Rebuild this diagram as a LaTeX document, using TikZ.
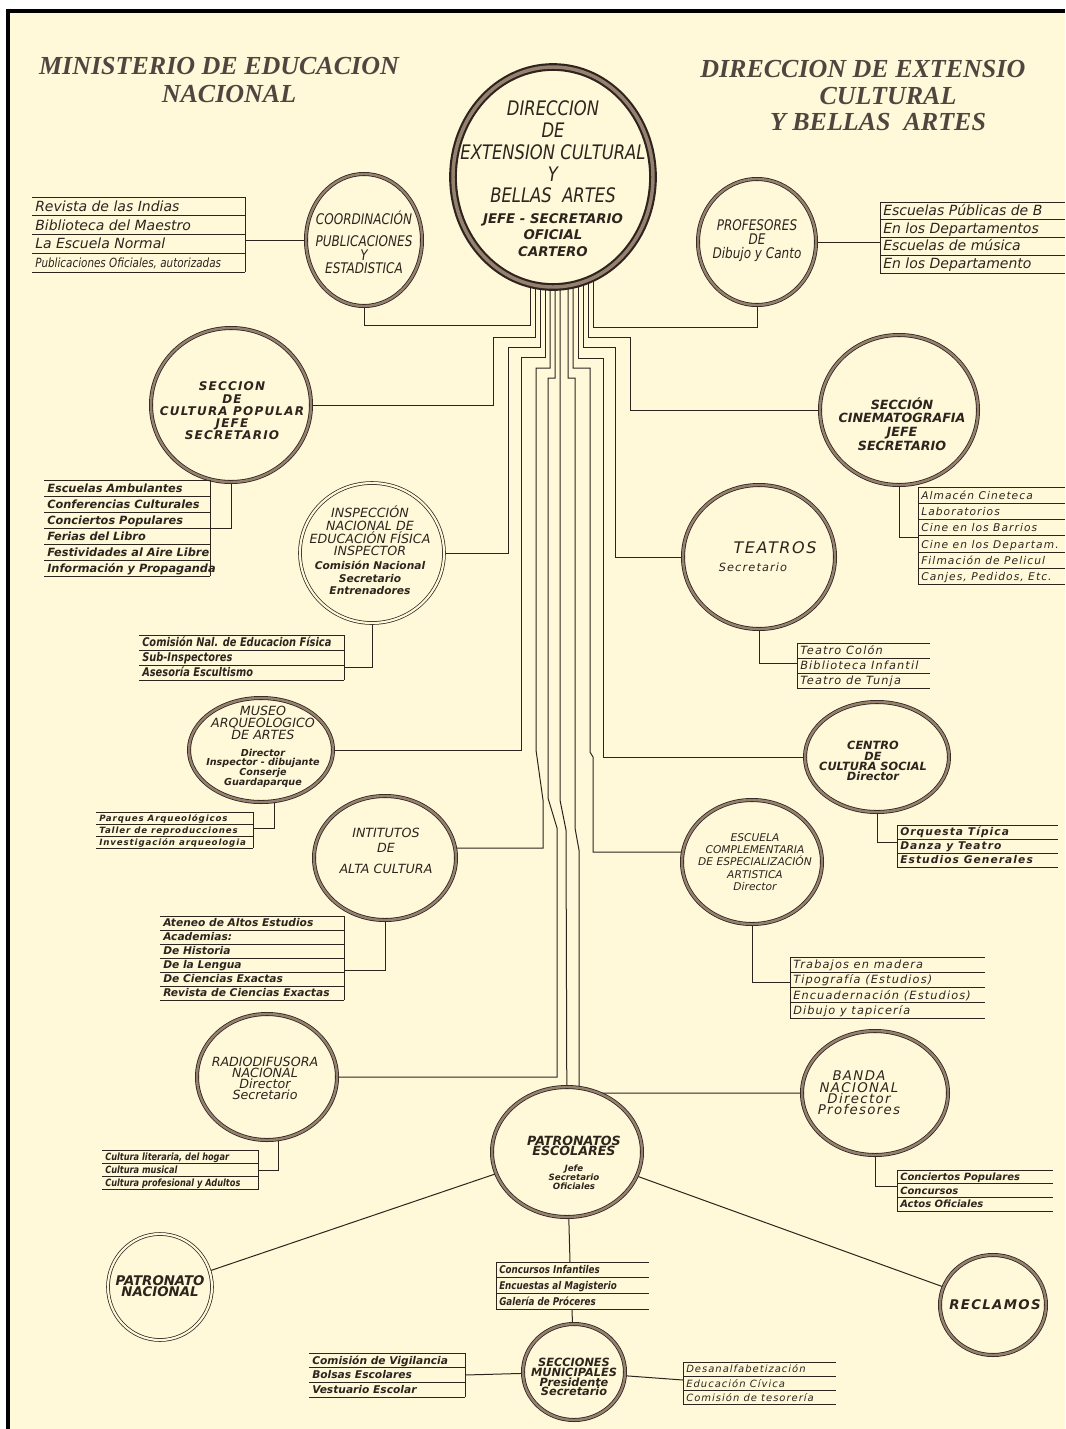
\documentclass[tikz,border=0pt]{standalone}
\usepackage{fontspec}
\usepackage{graphicx}
\setmainfont{DejaVu Sans}
\newfontfamily\hand{DejaVu Sans}
\newfontfamily\handsp[LetterSpace=10]{DejaVu Sans}
\newfontfamily\handn[FakeStretch=0.82]{DejaVu Sans}
\newfontfamily\headf{Liberation Serif}
\usetikzlibrary{shapes.geometric,calc}
\definecolor{cream}{RGB}{255,249,217}
\definecolor{ink}{RGB}{45,36,30}
\definecolor{ringmid}{RGB}{150,128,112}
\definecolor{headc}{RGB}{80,70,64}
\pgfdeclarelayer{paper}
\pgfdeclarelayer{wires}
\pgfsetlayers{paper,wires,main}
\tikzset{
 conn/.style={draw=ink, line width=0.75pt},
 circ/.style 2 args={ellipse, inner sep=0pt, minimum width={#1*1.5pt}, minimum height={#2*1.5pt}, fill=cream},
 ring/.style={draw=ink, line width=0.6pt, double=ringmid, double distance=1.8pt},
 thinring/.style={draw=ink, line width=0.55pt, double=cream, double distance=1.6pt},
 bigring/.style={draw=ink, line width=1.6pt, double=ringmid, double distance=2.6pt},
 ct/.style={align=center, inner sep=0pt, text=ink},
 item/.style={inner sep=0pt, text=ink},
 head/.style={inner sep=0pt, text=headc, font=\headf\bfseries\itshape\fontsize{19.5}{21}\selectfont},
}
\newcommand{\rowlist}[8][]{%
  \draw[conn] (#3,#6) -- (#4,#6);
  \foreach \itm [count=\i] in {#8}{%
    \node[item,#1,anchor=base west] (#2-\i) at ({#3+3},{#6+\i*#7-0.24*#7}) {\itm};
    \draw[conn] (#3,{#6+\i*#7}) -- (#4,{#6+\i*#7});
    \xdef\nrows{\i}%
  }%
  \draw[conn] (#5,#6) -- (#5,{#6+\nrows*#7});
}
\begin{document}
\begin{tikzpicture}[x=0.75pt,y=-0.75pt]
\useasboundingbox (0,0) rectangle (1065,1429);
\begin{pgfonlayer}{paper}
 \fill[white] (0,0) rectangle (1065,1429);
 \fill[cream] (7,11) rectangle (1065,1429);
 \draw[line width=3pt, black] (7.5,1429) -- (7.5,11) -- (1065,11);
\end{pgfonlayer}

% headings
\node[head] (h1) at (219,66) {MINISTERIO DE EDUCACION};
\node[head] (h2) at (229,94) {NACIONAL};
\node[head, anchor=west] (h3) at (700,69) {DIRECCION DE EXTENSIO};
\node[head] (h4) at (888,96) {CULTURAL};
\node[head] (h5) at (878,122) {Y BELLAS\ \ ARTES};

% circles
\node[circ={100}{110}, bigring] (dir) at (553,177) {};
\node[circ={58}{66}, ring] (coord) at (364,240) {};
\node[circ={59}{63}, ring] (prof) at (757,242) {};
\node[circ={80}{77}, ring] (cultpop) at (231,405) {};
\node[circ={72}{70}, thinring] (insp) at (372,553) {};
\node[circ={79}{75}, ring] (cine) at (899,410) {};
\node[circ={76}{72}, ring] (teatros) at (759,557) {};
\node[circ={72}{52}, ring] (museo) at (261,750) {};
\node[circ={72}{55}, ring] (centro) at (877,757) {};
\node[circ={71}{62}, ring] (instit) at (385,858) {};
\node[circ={70}{62}, ring] (escuela) at (752,862) {};
\node[circ={70}{63}, ring] (radio) at (267,1077) {};
\node[circ={73}{62}, ring] (banda) at (875,1093) {};
\node[circ={75}{65}, ring] (patron) at (567,1152) {};
\node[circ={52}{53}, thinring] (patnac) at (160,1287) {};
\node[circ={53}{50}, ring] (reclamos) at (993,1305) {};
\node[circ={51}{48}, ring] (secc) at (574,1372) {};

% circle texts
\node[ct, font=\handn\itshape\fontsize{15}{16.3}\selectfont] (dir-t1) at (553,152) {DIRECCION\\DE\\EXTENSION CULTURAL\\Y\\BELLAS\ \ ARTES};
\node[ct, font=\hand\bfseries\itshape\fontsize{10}{12.4}\selectfont] (dir-t2) at (553,235) {JEFE - SECRETARIO\\OFICIAL\\CARTERO};
\node[ct, font=\handn\itshape\fontsize{11}{10}\selectfont] (coord-t) at (364,242) {COORDINACIÓN\\[7pt]PUBLICACIONES\\Y\\ESTADISTICA};
\node[ct, font=\handn\itshape\fontsize{11}{10.5}\selectfont] (prof-t) at (757,241) {PROFESORES\\DE\\Dibujo y Canto};
\node[ct, font=\handsp\bfseries\itshape\fontsize{9}{9.2}\selectfont] (cultpop-t) at (232,411) {SECCION\\DE\\CULTURA POPULAR\\JEFE\\SECRETARIO};
\node[ct, font=\hand\itshape\fontsize{9.5}{9.5}\selectfont] (insp-t1) at (370,531) {INSPECCIÓN\\NACIONAL DE\\EDUCACIÓN FÍSICA\\INSPECTOR};
\node[ct, font=\hand\bfseries\itshape\fontsize{8}{9.4}\selectfont] (insp-t2) at (370,578) {Comisión Nacional\\Secretario\\Entrenadores};
\node[ct, font=\hand\bfseries\itshape\fontsize{9.5}{10.3}\selectfont] (cine-t) at (902,424) {SECCIÓN\\CINEMATOGRAFIA\\JEFE\\SECRETARIO};
\node[ct, font=\handsp\itshape\fontsize{12}{13}\selectfont] (teatros-t1) at (775,548) {TEATROS};
\node[ct, font=\handsp\itshape\fontsize{8.5}{10}\selectfont] (teatros-t2) at (753,567) {Secretario};
\node[ct, font=\hand\itshape\fontsize{9.5}{9}\selectfont] (museo-t1) at (263,723) {MUSEO\\ARQUEOLOGICO\\DE ARTES};
\node[ct, font=\hand\bfseries\itshape\fontsize{7.2}{7.2}\selectfont] (museo-t2) at (263,768) {Director\\Inspector - dibujante\\Conserje\\Guardaparque};
\node[ct, font=\hand\itshape\fontsize{9.5}{11}\selectfont] (instit-t) at (386,851) {INTITUTOS\\DE\\[5pt]ALTA CULTURA};
\node[ct, font=\hand\bfseries\itshape\fontsize{8.5}{7.6}\selectfont] (centro-t) at (873,761) {CENTRO\\DE\\CULTURA SOCIAL\\Director};
\node[ct, font=\hand\itshape\fontsize{8}{9.2}\selectfont] (escuela-t) at (755,862) {ESCUELA\\COMPLEMENTARIA\\DE ESPECIALIZACIÓN\\ARTISTICA\\Director};
\node[ct, font=\hand\itshape\fontsize{9.5}{8.3}\selectfont] (radio-t) at (265,1078) {RADIODIFUSORA\\NACIONAL\\Director\\Secretario};
\node[ct, font=\handsp\itshape\fontsize{10}{8.5}\selectfont] (banda-t) at (859,1093) {BANDA\\NACIONAL\\Director\\Profesores};
\node[ct, font=\hand\bfseries\itshape\fontsize{9.5}{7.5}\selectfont] (patron-t1) at (574,1146) {PATRONATOS\\ESCOLARES};
\node[ct, font=\hand\bfseries\itshape\fontsize{6.5}{6.8}\selectfont] (patron-t2) at (574,1177) {Jefe\\Secretario\\Oficiales};
\node[ct, font=\hand\bfseries\itshape\fontsize{10}{8.3}\selectfont] (patnac-t) at (160,1286) {PATRONATO\\NACIONAL};
\node[ct, font=\handsp\bfseries\itshape\fontsize{10}{11}\selectfont] (reclamos-t) at (995,1305) {RECLAMOS};
\node[ct, font=\hand\bfseries\itshape\fontsize{8.5}{7.3}\selectfont] (secc-t) at (574,1377) {SECCIONES\\MUNICIPALES\\Presidente\\Secretario};

% lists
\rowlist[font=\hand\itshape\fontsize{10.5}{11}\selectfont]{lA}{32}{245}{245}{197}{18.75}{Revista de las Indias, Biblioteca del Maestro, La Escuela Normal, {{\handn\fontsize{9.5}{10}\selectfont Publicaciones Oficiales, autorizadas}}}
\rowlist[font=\hand\itshape\fontsize{10.5}{11}\selectfont]{lB}{880}{1065}{880}{202}{17.75}{Escuelas Públicas de B, En los Departamentos, Escuelas de música, En los Departamento}
\rowlist[font=\hand\bfseries\itshape\fontsize{8.5}{9}\selectfont]{lC}{44}{210}{210}{480}{16}{Escuelas Ambulantes, Conferencias Culturales, Conciertos Populares, Ferias del Libro, Festividades al Aire Libre, Información y Propaganda}
\rowlist[font=\handn\bfseries\itshape\fontsize{9}{9}\selectfont]{lD}{139}{344}{344}{635}{15}{Comisión Nal. de Educacion Física, Sub-Inspectores, Asesoría Escultismo}
\rowlist[font=\handsp\itshape\fontsize{8}{9}\selectfont]{lE}{918}{1065}{918}{487}{16.3}{Almacén Cineteca, Laboratorios, Cine en los Barrios, Cine en los Departam., Filmación de Pelicul, {Canjes, Pedidos, Etc.}}
\rowlist[font=\handsp\itshape\fontsize{8.5}{9}\selectfont]{lF}{797}{930}{797}{643}{15}{Teatro Colón, Biblioteca Infantil, Teatro de Tunja}
\rowlist[font=\handsp\bfseries\itshape\fontsize{6.5}{7}\selectfont]{lG}{96}{253}{253}{812}{12}{Parques Arqueológicos, Taller de reproducciones, Investigación arqueologia}
\rowlist[font=\hand\bfseries\itshape\fontsize{8}{9}\selectfont]{lH}{160}{344}{344}{916}{14}{Ateneo de Altos Estudios, Academias:, De Historia, De la Lengua, De Ciencias Exactas, Revista de Ciencias Exactas}
\rowlist[font=\handsp\bfseries\itshape\fontsize{8}{9}\selectfont]{lI}{897}{1058}{897}{825}{14}{Orquesta Típica, Danza y Teatro, Estudios Generales}
\rowlist[font=\handsp\itshape\fontsize{8.5}{9}\selectfont]{lJ}{790}{985}{790}{957}{15.25}{Trabajos en madera, Tipografía (Estudios), Encuadernación (Estudios), Dibujo y tapicería}
\rowlist[font=\handn\bfseries\itshape\fontsize{7.5}{8}\selectfont]{lK}{102}{258}{258}{1150}{13.3}{{Cultura literaria, del hogar}, Cultura musical, Cultura profesional y Adultos}
\rowlist[font=\hand\bfseries\itshape\fontsize{7.5}{8}\selectfont]{lL}{897}{1053}{897}{1170}{13.7}{Conciertos Populares, Concursos, Actos Oficiales}
\rowlist[font=\handn\bfseries\itshape\fontsize{8}{8}\selectfont]{lM}{496}{649}{496}{1262}{15.7}{Concursos Infantiles, Encuestas al Magisterio, Galería de Próceres}
\rowlist[font=\hand\bfseries\itshape\fontsize{8}{8}\selectfont]{lN}{309}{465}{465}{1353}{14.7}{Comisión de Vigilancia, Bolsas Escolares, Vestuario Escolar}
\rowlist[font=\handsp\itshape\fontsize{7.5}{8}\selectfont]{lO}{683}{836}{683}{1362}{14.3}{Desanalfabetización, Educación Cívica, Comisión de tesorería}

% connector end points
\coordinate (b1) at (530,250); \coordinate (b2) at (535,250); \coordinate (b3) at (540,250);
\coordinate (b4) at (545,250); \coordinate (b5) at (550,250); \coordinate (b6) at (555,250);
\coordinate (bc) at (560,250);
\coordinate (r6) at (568,250); \coordinate (r5) at (573,250); \coordinate (r4) at (578,250);
\coordinate (r3) at (583,250); \coordinate (r2) at (588,250); \coordinate (r1) at (593,250);
\coordinate (cA) at (245,240); \coordinate (cB) at (880,242);
\coordinate (cC) at (210,528); \coordinate (cD) at (344,667);
\coordinate (cE) at (918,537); \coordinate (cF) at (797,663);
\coordinate (cG) at (253,828); \coordinate (cH) at (344,970);
\coordinate (cI) at (897,842); \coordinate (cJ) at (790,982);
\coordinate (cK) at (258,1170); \coordinate (cL) at (897,1186);
\coordinate (cM1) at (570,1262); \coordinate (cM2) at (572,1309);
\coordinate (cN) at (465,1375); \coordinate (cO) at (683,1380);

\begin{pgfonlayer}{wires}
 % bus from the Direccion
 \draw[conn] (b1) -- ++(0,75) -| (coord);
 \draw[conn] (b2) -- ++(0,87) -- ++(-42,0) |- (cultpop);
 \draw[conn] (b3) -- ++(0,97) -- ++(-32,0) |- (insp);
 \draw[conn] (b4) -- ++(0,107) -- ++(-24,0) |- (museo);
 \draw[conn] (b5) -- ++(0,118) -- ++(-14,0) -- ++(0,382) -- ++(7,50) |- (instit.8);
 \draw[conn] (b6) -- ++(0,128) -- ++(-7,0) -- ++(0,420) -- ++(9,30) |- (radio);
 \draw[conn] (bc) -- ++(0,550) -- ++(6,30) -- (patron);
 \draw[conn] (r6) -- ++(0,128) -- ++(7,0) -- ++(0,450) -- ++(4,22) |- (banda);
 \draw[conn] (r5) -- ++(0,118) -- ++(17,0) -- ++(0,384) -- ++(3,5) |- (escuela.172);
 \draw[conn] (r4) -- ++(0,108) -- ++(25,0) |- (centro);
 \draw[conn] (r3) -- ++(0,97) -- ++(32,0) |- (teatros);
 \draw[conn] (r2) -- ++(0,87) -- ++(42,0) |- (cine);
 \draw[conn] (r1) -- ++(0,77) -| (prof);
 % to the lists
 \draw[conn] (coord) -- (cA);
 \draw[conn] (prof) -- (cB);
 \draw[conn] (cultpop) |- (cC);
 \draw[conn] (insp) |- (cD);
 \draw[conn] (cine) |- (cE);
 \draw[conn] (teatros) |- (cF);
 \draw[conn] (museo.-75) |- (cG);
 \draw[conn] (instit) |- (cH);
 \draw[conn] (centro) |- (cI);
 \draw[conn] (escuela) |- (cJ);
 \draw[conn] (radio.-80) |- (cK);
 \draw[conn] (banda) |- (cL);
 \draw[conn] (patron) -- (cM1);
 \draw[conn] (cM2) -- (secc);
 \draw[conn] (secc) -- (cN);
 \draw[conn] (secc) -- (cO);
 \draw[conn] (patron.197) -- (patnac.18);
 \draw[conn] (patron.-19) -- (reclamos.160);
\end{pgfonlayer}
\end{tikzpicture}
\end{document}
